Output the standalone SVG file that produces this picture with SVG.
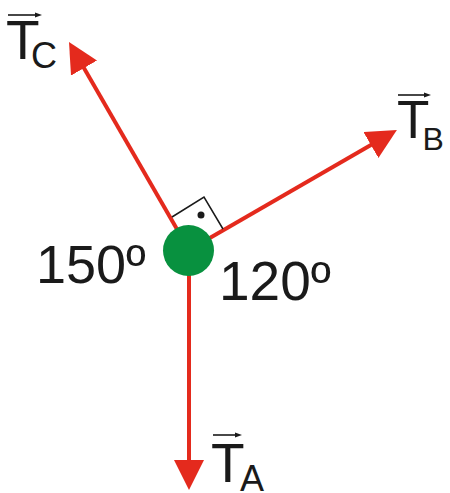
<svg xmlns="http://www.w3.org/2000/svg" width="450" height="493" viewBox="0 0 450 493">
  <style>
    .vec { stroke: #e42a1d; stroke-width: 4; fill: none; }
    .lbl { font-family: "Liberation Sans", Arial, sans-serif; fill: #1a1a1a; }
    .ov { stroke: #1a1a1a; stroke-width: 1.6; fill: none; }
    .ovh { fill: #1a1a1a; }
  </style>
  <defs>
    <marker id="head" markerUnits="userSpaceOnUse" markerWidth="30" markerHeight="30" refX="3" refY="15" orient="auto" viewBox="0 0 30 30">
      <path d="M0,0 L30,15 L0,30 z" fill="#e42a1d"/>
    </marker>
  </defs>
  <g id="connectors">
    <line class="vec" x1="189" y1="250" x2="189" y2="463" marker-end="url(#head)"/>
    <line class="vec" x1="189" y1="250" x2="82.5" y2="65.5" marker-end="url(#head)"/>
    <line class="vec" x1="189" y1="250" x2="373.5" y2="143.5" marker-end="url(#head)"/>
  </g>
  <g id="right-angle">
    <polyline points="172,217 204,197 223,229" fill="none" stroke="#1a1a1a" stroke-width="1.5"/>
    <circle cx="201" cy="215" r="3.5" fill="#1a1a1a"/>
  </g>
  <g id="body">
    <circle cx="188.5" cy="250.5" r="25.5" fill="#08913f"/>
  </g>
  <g id="label-TC">
    <line class="ov" x1="8" y1="15" x2="37" y2="15"/>
    <path class="ovh" d="M35,12.5 L42,15 L35,17.5 z"/>
    <text class="lbl" x="6" y="59" font-size="55">T</text>
    <text class="lbl" x="31" y="68" font-size="36">C</text>
  </g>
  <g id="label-TB">
    <line class="ov" x1="398" y1="95" x2="426" y2="95"/>
    <path class="ovh" d="M424,92.5 L431,95 L424,97.5 z"/>
    <text class="lbl" x="397" y="138" font-size="53">T</text>
    <text class="lbl" x="422.5" y="150" font-size="32">B</text>
  </g>
  <g id="label-TA">
    <line class="ov" x1="213" y1="435" x2="237" y2="435"/>
    <path class="ovh" d="M235,432.5 L242,435 L235,437.5 z"/>
    <text class="lbl" x="211" y="482" font-size="55">T</text>
    <text class="lbl" x="240" y="491" font-size="36">A</text>
  </g>
  <g id="angle-150">
    <text class="lbl" x="36" y="283" font-size="54">150º</text>
  </g>
  <g id="angle-120">
    <text class="lbl" x="219" y="300" font-size="55">120º</text>
  </g>
</svg>
